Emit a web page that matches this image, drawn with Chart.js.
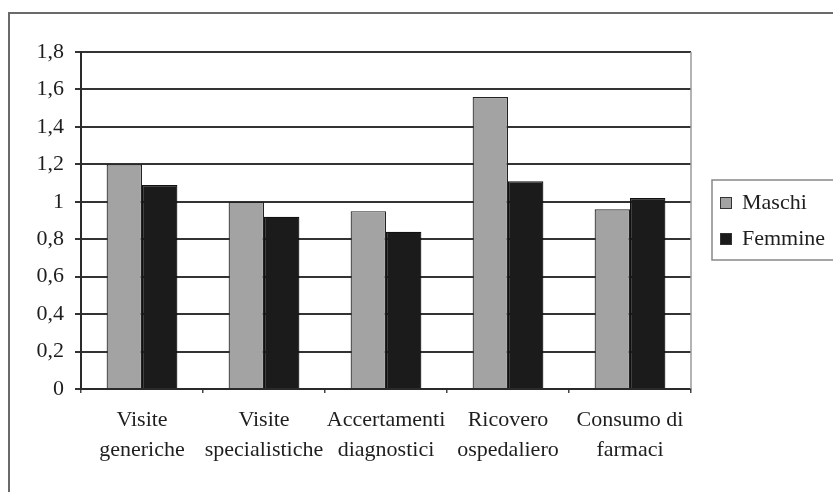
<!DOCTYPE html>
<html>
<head>
<meta charset="utf-8">
<script src="https://cdn.jsdelivr.net/npm/chart.js@4"></script>
<style>
  html, body { margin: 0; padding: 0; background: #fff; }
  #wrap { width: 833px; height: 492px; }
</style>
</head>
<body>
<div id="wrap"><canvas id="c" width="833" height="492"></canvas></div>
<script>
// Categories (two-line labels) and values per sex
const categories = [
  ["Visite", "generiche"],
  ["Visite", "specialistiche"],
  ["Accertamenti", "diagnostici"],
  ["Ricovero", "ospedaliero"],
  ["Consumo di", "farmaci"]
];
const seriesNames = ["Maschi", "Femmine"];
const maschi = [1.2, 1.0, 0.95, 1.56, 0.96];
const femmine = [1.09, 0.92, 0.84, 1.11, 1.02];
const yTicks = [0, 0.2, 0.4, 0.6, 0.8, 1, 1.2, 1.4, 1.6, 1.8];

const FONT = "Liberation Serif, DejaVu Serif, Times New Roman, serif";
const TEXT = "#1e1e1e";

// Outer frame, right edge of the plot, and a boxed legend on the right
const frame = {
  id: "frame",
  beforeDraw(chart) {
    const ctx = chart.ctx;
    ctx.save();
    ctx.fillStyle = "#fff";
    ctx.fillRect(0, 0, chart.width, chart.height);
    ctx.strokeStyle = "#6a6a6a";
    ctx.lineWidth = 2;
    ctx.strokeRect(9, 13, 900, 600);
    ctx.restore();
  },
  afterDatasetsDraw(chart) {
    const ctx = chart.ctx;
    const a = chart.chartArea;
    ctx.save();
    ctx.strokeStyle = "#9a9a9a";
    ctx.lineWidth = 1.5;
    ctx.beginPath();
    ctx.moveTo(a.right, a.top);
    ctx.lineTo(a.right, a.bottom);
    ctx.stroke();
    ctx.restore();
  },
  afterDraw(chart) {
    const ctx = chart.ctx;
    ctx.save();
    ctx.strokeStyle = "#888";
    ctx.lineWidth = 1.5;
    ctx.strokeRect(712, 180, 130, 80);
    ctx.font = "22px " + FONT;
    ctx.textBaseline = "middle";
    ctx.textAlign = "left";
    chart.data.datasets.forEach((ds, i) => {
      const y = 203 + i * 36;
      ctx.fillStyle = ds.backgroundColor;
      ctx.fillRect(720, y - 6, 12, 12);
      ctx.strokeStyle = "#333";
      ctx.lineWidth = 1;
      ctx.strokeRect(720.5, y - 5.5, 11, 11);
      ctx.fillStyle = TEXT;
      ctx.fillText(ds.label, 742, y);
    });
    ctx.restore();
  }
};

new Chart(document.getElementById("c"), {
  type: "bar",
  data: {
    labels: categories,
    datasets: [
      { label: seriesNames[0], data: maschi, backgroundColor: "#a3a3a3", borderColor: "#222", borderWidth: 1.2 },
      { label: seriesNames[1], data: femmine, backgroundColor: "#1b1b1b", borderColor: "#111", borderWidth: 1.2 }
    ]
  },
  options: {
    responsive: false,
    animation: false,
    events: [],
    layout: { padding: { left: 0, top: 52, right: 142, bottom: 0 } },
    plugins: { legend: { display: false }, tooltip: { enabled: false } },
    datasets: { bar: { categoryPercentage: 0.58, barPercentage: 1.0 } },
    scales: {
      x: {
        afterFit(s) { s.height = 103; },
        grid: { display: true, drawOnChartArea: false, drawTicks: true, tickLength: 4, offset: true, color: "#444", lineWidth: 1.5 },
        border: { display: true, color: "#2a2a2a", width: 2 },
        ticks: { color: TEXT, font: { family: FONT, size: 22, lineHeight: 1.38 }, padding: 12, maxRotation: 0, autoSkip: false }
      },
      y: {
        min: 0,
        max: 1.8,
        afterFit(s) { s.width = 81; },
        afterBuildTicks(s) { s.ticks = yTicks.map(v => ({ value: v })); },
        grid: { color: "#333", lineWidth: 2, tickLength: 6 },
        border: { display: true, color: "#2a2a2a", width: 2 },
        ticks: {
          color: TEXT,
          font: { family: FONT, size: 22 },
          padding: 11,
          callback: v => String(Math.round(v * 10) / 10).replace(".", ",")
        }
      }
    }
  },
  plugins: [frame]
});
</script>
</body>
</html>
